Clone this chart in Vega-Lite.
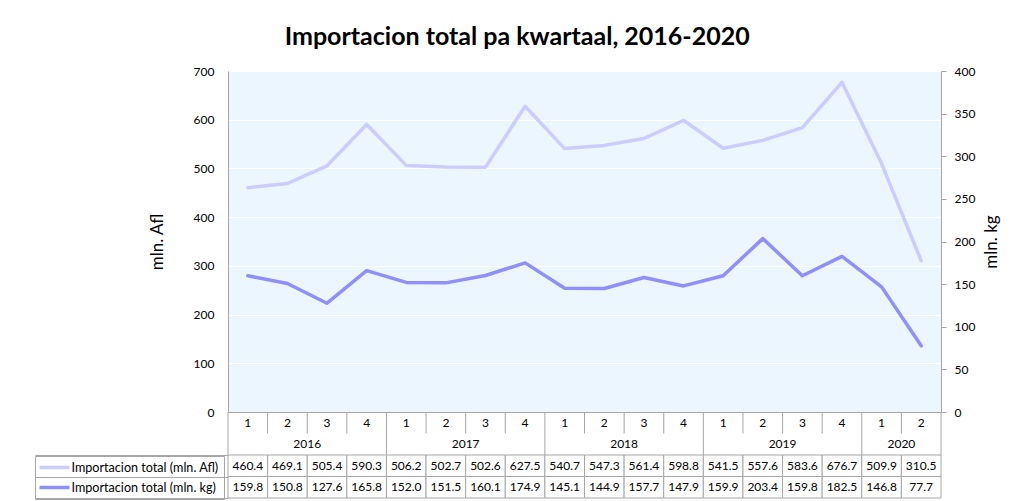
{
  "$schema": "https://vega.github.io/schema/vega-lite/v6.json",
  "padding": {"left": 34, "top": 25, "right": 5, "bottom": 0},
  "background": "white",
  "title": {"text": "Importacion total pa kwartaal, 2016-2020", "fontSize": 25, "fontWeight": "bold", "font": "Lato", "anchor": "middle", "frame": "bounds", "offset": 15, "color": "#000"},
  "data": {"values": [
    {"period": "2016 Q1", "year": 2016, "q": 1, "afl": 460.4, "kg": 159.8},
    {"period": "2016 Q2", "year": 2016, "q": 2, "afl": 469.1, "kg": 150.8},
    {"period": "2016 Q3", "year": 2016, "q": 3, "afl": 505.4, "kg": 127.6},
    {"period": "2016 Q4", "year": 2016, "q": 4, "afl": 590.3, "kg": 165.8},
    {"period": "2017 Q1", "year": 2017, "q": 1, "afl": 506.2, "kg": 152.0},
    {"period": "2017 Q2", "year": 2017, "q": 2, "afl": 502.7, "kg": 151.5},
    {"period": "2017 Q3", "year": 2017, "q": 3, "afl": 502.6, "kg": 160.1},
    {"period": "2017 Q4", "year": 2017, "q": 4, "afl": 627.5, "kg": 174.9},
    {"period": "2018 Q1", "year": 2018, "q": 1, "afl": 540.7, "kg": 145.1},
    {"period": "2018 Q2", "year": 2018, "q": 2, "afl": 547.3, "kg": 144.9},
    {"period": "2018 Q3", "year": 2018, "q": 3, "afl": 561.4, "kg": 157.7},
    {"period": "2018 Q4", "year": 2018, "q": 4, "afl": 598.8, "kg": 147.9},
    {"period": "2019 Q1", "year": 2019, "q": 1, "afl": 541.5, "kg": 159.9},
    {"period": "2019 Q2", "year": 2019, "q": 2, "afl": 557.6, "kg": 203.4},
    {"period": "2019 Q3", "year": 2019, "q": 3, "afl": 583.6, "kg": 159.8},
    {"period": "2019 Q4", "year": 2019, "q": 4, "afl": 676.7, "kg": 182.5},
    {"period": "2020 Q1", "year": 2020, "q": 1, "afl": 509.9, "kg": 146.8},
    {"period": "2020 Q2", "year": 2020, "q": 2, "afl": 310.5, "kg": 77.7}
  ]},
  "spacing": 0,
  "bounds": "flush",
  "vconcat": [
    {
      "width": 713,
      "height": 341,
      "view": {"fill": "#EBF6FE", "stroke": null},
      "encoding": {
        "x": {"field": "period", "type": "nominal", "bandPosition": 0.5,
              "scale": {"type": "band", "paddingInner": 0, "paddingOuter": 0},
              "axis": {"title": null, "labels": false, "ticks": false, "grid": false, "domainColor": "#a6a6a6"}}
      },
      "layer": [
        {
          "mark": {"type": "line", "strokeWidth": 3.5, "strokeJoin": "round", "strokeCap": "round"},
          "encoding": {
            "y": {"field": "afl", "type": "quantitative",
                  "scale": {"domain": [0, 700], "nice": false},
                  "axis": {"orient": "left", "title": "mln. Afl", "values": [0, 100, 200, 300, 400, 500, 600, 700],
                           "grid": true, "gridColor": "#ffffff", "gridWidth": 1.2, "ticks": false,
                           "labelPadding": 14, "titlePadding": 27, "domainColor": "#a6a6a6"}},
            "color": {"datum": "Importacion total (mln. Afl)", "type": "nominal",
                      "scale": {"domain": ["Importacion total (mln. Afl)", "Importacion total (mln. kg)"], "range": ["#CCCCFF", "#8F8FFF"]},
                      "legend": {"orient": "none", "legendX": -193, "legendY": 385, "title": null,
                                 "symbolType": "M-3,0H3", "symbolStrokeWidth": 3.5, "symbolSize": 100, "symbolOffset": 8,
                                 "labelFontSize": 12.6, "labelLimit": 300, "labelColor": "#000", "labelFont": "Lato",
                                 "strokeColor": "#a6a6a6", "padding": 4.5, "rowPadding": 6, "labelOffset": 10}}
          }
        },
        {
          "mark": {"type": "line", "strokeWidth": 3.5, "strokeJoin": "round", "strokeCap": "round"},
          "encoding": {
            "y": {"field": "kg", "type": "quantitative",
                  "scale": {"domain": [0, 400], "nice": false},
                  "axis": {"orient": "right", "title": "mln. kg", "values": [0, 50, 100, 150, 200, 250, 300, 350, 400],
                           "grid": false, "ticks": true, "tickSize": 5, "tickColor": "#a6a6a6",
                           "labelPadding": 8, "titlePadding": 9, "titleAngle": 270, "titleBaseline": "top", "domainColor": "#a6a6a6"}},
            "color": {"datum": "Importacion total (mln. kg)", "type": "nominal"}
          }
        }
      ],
      "resolve": {"scale": {"y": "independent"}}
    },
    {
      "width": 713,
      "height": 86,
      "view": {"stroke": null},
      "encoding": {
        "x": {"field": "period", "type": "nominal",
              "scale": {"type": "band", "paddingInner": 0, "paddingOuter": 0}, "axis": null}
      },
      "layer": [
        {
          "transform": [{"fold": ["afl", "kg"], "as": ["row", "val"]}],
          "mark": {"type": "rect", "fill": "#ffffff", "stroke": "#a6a6a6", "strokeWidth": 1},
          "encoding": {
            "y": {"field": "row", "type": "nominal",
                  "scale": {"domain": ["q", "year", "afl", "kg"], "paddingInner": 0, "paddingOuter": 0},
                  "axis": {"title": null, "labels": false, "domain": false, "grid": false, "tickSize": 193, "tickWidth": 1, "tickOffset": 10.75,
                           "tickColor": {"condition": {"test": "datum.value == 'q'", "value": "rgba(0,0,0,0)"}, "value": "#a6a6a6"}}}
          }
        },
        {
          "transform": [{"fold": ["afl", "kg"], "as": ["row", "val"]}],
          "mark": {"type": "text", "fontSize": 12, "color": "#000"},
          "encoding": {
            "y": {"field": "row", "type": "nominal"},
            "text": {"field": "val", "type": "quantitative", "format": ".1f"}
          }
        },
        {
          "mark": {"type": "text", "fontSize": 12, "color": "#000"},
          "encoding": {
            "y": {"datum": "q", "type": "nominal"},
            "text": {"field": "q", "type": "nominal"}
          }
        },
        {
          "transform": [{"filter": "(datum.year < 2020 && datum.q == 2) || (datum.year == 2020 && datum.q == 1)"}],
          "mark": {"type": "text", "fontSize": 12, "color": "#000"},
          "encoding": {
            "x": {"field": "period", "type": "nominal", "bandPosition": 1, "axis": null},
            "y": {"datum": "year", "type": "nominal"},
            "text": {"field": "year", "type": "nominal"}
          }
        },
        {
          "transform": [{"filter": "datum.q != 1"}],
          "mark": {"type": "rule", "color": "#a6a6a6", "strokeWidth": 1},
          "encoding": {
            "x": {"field": "period", "type": "nominal", "bandPosition": 0, "axis": null},
            "y": {"datum": "q", "type": "nominal", "bandPosition": 0},
            "y2": {"datum": "q", "bandPosition": 1}
          }
        },
        {
          "transform": [{"filter": "datum.q == 1"}],
          "mark": {"type": "rule", "color": "#a6a6a6", "strokeWidth": 1},
          "encoding": {
            "x": {"field": "period", "type": "nominal", "bandPosition": 0, "axis": null},
            "y": {"datum": "q", "type": "nominal", "bandPosition": 0},
            "y2": {"datum": "year", "bandPosition": 1}
          }
        },
        {
          "transform": [{"filter": "datum.period == '2020 Q2'"}],
          "mark": {"type": "rule", "color": "#a6a6a6", "strokeWidth": 1},
          "encoding": {
            "x": {"field": "period", "type": "nominal", "bandPosition": 1, "axis": null},
            "y": {"datum": "q", "type": "nominal", "bandPosition": 0},
            "y2": {"datum": "year", "bandPosition": 1}
          }
        }
      ]
    }
  ],
  "config": {
    "font": "Lato",
    "view": {"stroke": null},
    "axis": {"labelFont": "Lato", "titleFont": "Lato", "labelFontSize": 12, "titleFontSize": 17, "titleFontWeight": "normal", "labelColor": "#000", "titleColor": "#000"},
    "text": {"font": "Lato"}
  }
}
